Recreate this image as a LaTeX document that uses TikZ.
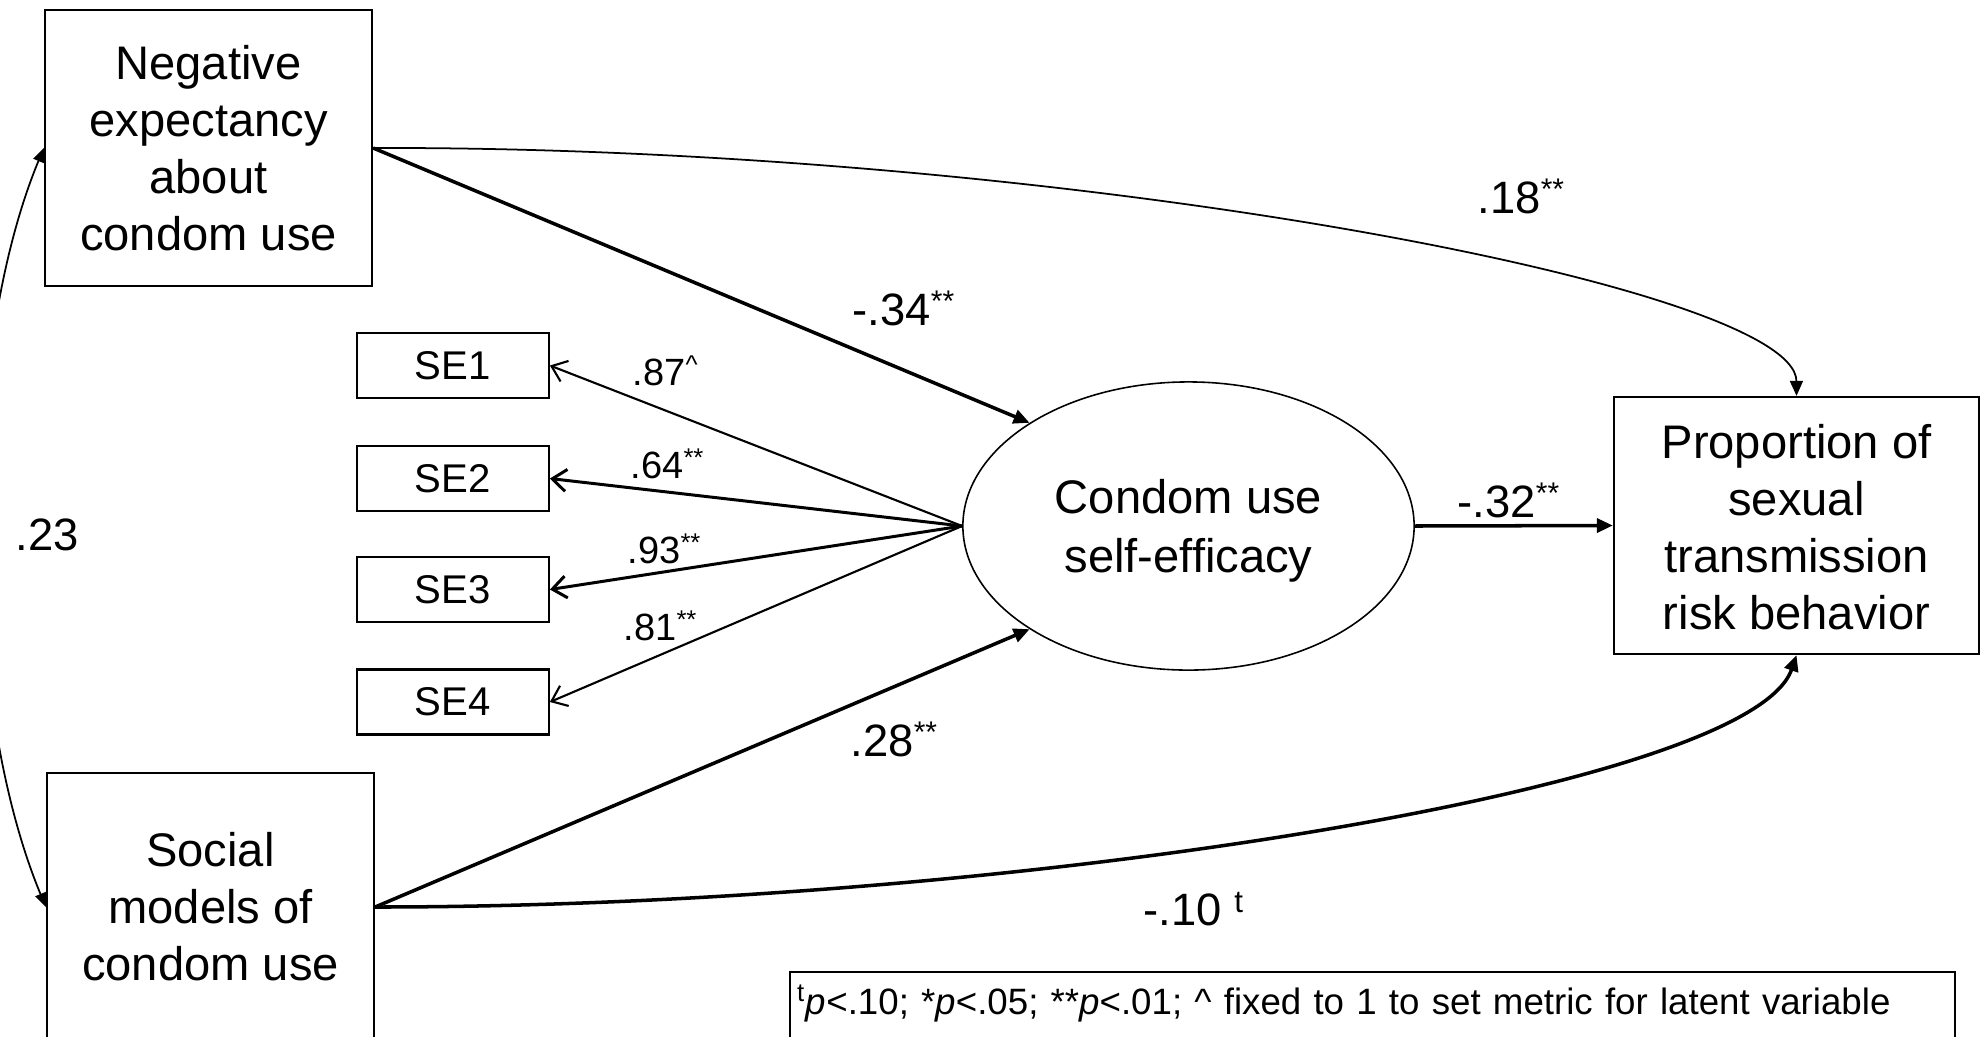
\documentclass[tikz,border=0pt]{standalone}
\usepackage{fontspec}
\setmainfont{Liberation Sans}
\usetikzlibrary{arrows.meta,shapes.geometric}

% font sizes used in the model diagram
\newcommand{\boxfont}{\fontsize{13.4pt}{16.2pt}\selectfont}
\newcommand{\latentfont}{\fontsize{13.4pt}{16.8pt}\selectfont}
\newcommand{\pathfont}{\fontsize{12.9pt}{15pt}\selectfont}
\newcommand{\indfont}{\fontsize{11.4pt}{13pt}\selectfont}
\newcommand{\loadfont}{\fontsize{10.8pt}{13pt}\selectfont}
\newcommand{\notefont}{\fontsize{10.43pt}{13pt}\selectfont}
% significance marks on path and loading coefficients
\newcommand{\pmark}[1]{\raisebox{0.135cm}{\fontsize{8.5pt}{8.5pt}\selectfont #1}}
\newcommand{\lmark}[1]{\raisebox{0.12cm}{\fontsize{7.3pt}{7.3pt}\selectfont #1}}

\tikzset{
  varbox/.style={draw, line width=0.6pt, rectangle, inner sep=0pt, align=center, font=\boxfont},
  indbox/.style={draw, line width=0.6pt, rectangle, inner sep=0pt, minimum width=1.92cm, minimum height=0.65cm, font=\indfont},
  latent/.style={draw, line width=0.45pt, ellipse, inner sep=0pt, align=center, font=\latentfont},
  pathlabel/.style={anchor=base west, inner sep=0pt, font=\pathfont},
  loadlabel/.style={anchor=base west, inner sep=0pt, font=\loadfont},
  strongpath/.style={line width=1.0pt, -{Triangle[length=0.16cm, width=0.14cm]}},
  weakpath/.style={line width=0.5pt, -{Triangle[length=0.15cm, width=0.13cm]}},
  covpath/.style={line width=0.5pt, {Triangle[length=0.14cm, width=0.11cm]}-{Triangle[length=0.14cm, width=0.11cm]}},
  loadthin/.style={line width=0.6pt, -{Straight Barb[length=0.14cm, width=0.22cm]}},
  loadthick/.style={line width=0.85pt, -{Straight Barb[length=0.14cm, width=0.22cm]}},
}

\begin{document}
\begin{tikzpicture}[x=0.01cm, y=-0.01cm]
\useasboundingbox (0,0) rectangle (1988,1036);

% observed exogenous variables
\node[varbox, minimum width=3.27cm, minimum height=2.76cm] (neg) at (208.5,148)
  {Negative\\expectancy\\about\\condom use};
\node[varbox, minimum width=3.27cm, minimum height=2.68cm] (soc) at (210.5,907)
  {Social\\models of\\condom use};

% outcome
\node[varbox, minimum width=3.65cm, minimum height=2.57cm] (prop) at (1796.5,525.5)
  {\rule{0pt}{0.37cm}Proportion of\\sexual\\transmission\\risk behavior};

% latent factor and its indicators
\node[latent, minimum width=4.51cm, minimum height=2.88cm] (eff) at (1188.5,526)
  {\rule{0pt}{0.44cm}Condom use\\self-efficacy};
\node[indbox] (se1) at (452.8,365.5) {SE1};
\node[indbox] (se2) at (452.8,478.5) {SE2};
\node[indbox] (se3) at (452.8,589.5) {SE3};
\node[indbox] (se4) at (452.8,702) {SE4};

% loadings
\draw[loadthin]  (eff.west) -- (se1.east);
\draw[loadthick] (eff.west) -- (se2.east);
\draw[loadthick] (eff.west) -- (se3.east);
\draw[loadthin]  (eff.west) -- (se4.east);
\node[loadlabel] (l1) at (632,385) {.87\lmark{\textasciicircum}};
\node[loadlabel] (l2) at (630,478) {.64\lmark{**}};
\node[loadlabel] (l3) at (627,563) {.93\lmark{**}};
\node[loadlabel] (l4) at (623,640) {.81\lmark{**}};

% structural paths
\draw[strongpath] (neg.east) -- (eff.147);
\draw[strongpath] (soc.east) -- (eff.213);
\draw[strongpath] (eff.east) -- (prop.west);
\draw[weakpath] (neg.east) .. controls (1050,146) and (1796,285) .. (prop.north);
\draw[strongpath] (soc.east) .. controls (1000,907) and (1750,790) .. (prop.south);
\draw[covpath] (neg.west) .. controls (-40,350) and (-40,700) .. (soc.west);

\node[pathlabel] (p1) at (852,325) {-.34\pmark{**}};
\node[pathlabel] (p2) at (850,756) {.28\pmark{**}};
\node[pathlabel] (p3) at (1457,517) {-.32\pmark{**}};
\node[pathlabel] (p4) at (1477,213) {.18\pmark{**}};
\node[pathlabel] (p5) at (1143,925) {-.10 \raisebox{0.13cm}{\fontsize{8.9pt}{8.9pt}\selectfont t}};
\node[pathlabel] (p6) at (15,550) {.23};

% significance note
\node[draw, line width=0.6pt, anchor=base west, inner xsep=0.07cm, inner ysep=0pt,
      text width=11.50cm, align=left, text height=0.42cm, text depth=0.40cm,
      font=\notefont] (note) at (789,1014)
  {\textsuperscript{t}\textit{p}<.10; *\textit{p}<.05; **\textit{p}<.01; \textasciicircum{} fixed to 1 to set metric for latent variable};
\end{tikzpicture}
\end{document}
